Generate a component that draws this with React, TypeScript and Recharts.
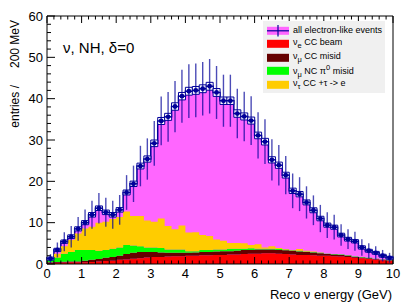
import { Area, Bar, ComposedChart, ErrorBar, Scatter, XAxis, YAxis } from "recharts";

// 50 bins of 200 MeV, 0 - 10 GeV.
const BIN_WIDTH = 0.2;

const TOTAL = [
  1.3, 3.4, 5.4, 6.6, 8.5, 10.0, 11.9, 13.5, 12.5, 11.9,
  13.1, 17.3, 19.4, 23.7, 25.4, 29.2, 34.6, 35.6, 38.1, 40.6,
  41.8, 42.0, 42.4, 43.0, 41.5, 39.5, 39.5, 36.4, 35.7, 34.7,
  31.1, 29.6, 25.2, 23.9, 21.5, 17.7, 16.9, 14.9, 13.0, 11.0,
  9.4, 8.9, 7.0, 6.0, 5.5, 4.0, 3.2, 2.7, 2.0, 1.5,
];
const STAT_ERR = [
  1.1, 1.8, 2.3, 2.6, 2.9, 3.2, 3.4, 3.7, 3.5, 3.4,
  3.6, 4.2, 4.4, 4.9, 5.0, 5.4, 5.9, 6.0, 6.2, 6.4,
  6.5, 6.5, 6.5, 6.6, 6.4, 6.3, 6.3, 6.0, 6.0, 5.9,
  5.6, 5.4, 5.0, 4.9, 4.6, 4.2, 4.1, 3.9, 3.6, 3.3,
  3.1, 3.0, 2.6, 2.4, 2.3, 2.0, 1.8, 1.6, 1.4, 1.2,
];
// half height of the systematic boxes
const SYST_ERR = [
  0.35, 0.4, 0.4, 0.45, 0.5, 0.5, 0.55, 0.55, 0.55, 0.55,
  0.55, 0.6, 0.65, 0.7, 0.75, 0.8, 0.85, 0.85, 0.9, 0.9,
  0.95, 0.95, 0.95, 0.95, 0.95, 0.9, 0.9, 0.9, 0.85, 0.85,
  0.8, 0.8, 0.75, 0.75, 0.7, 0.65, 0.65, 0.6, 0.6, 0.55,
  0.5, 0.5, 0.45, 0.45, 0.4, 0.4, 0.35, 0.35, 0.35, 0.35,
];
const NUE_CC_BEAM = [
  0.3, 0.3, 0.35, 0.4, 0.4, 0.45, 0.5, 0.6, 0.7, 0.8,
  1.0, 1.1, 1.3, 1.4, 1.6, 1.7, 1.7, 1.8, 1.9, 1.9,
  2.0, 2.0, 2.1, 2.1, 2.2, 2.2, 2.3, 2.3, 2.4, 2.5,
  2.5, 2.6, 2.6, 2.5, 2.4, 2.3, 2.2, 2.2, 2.1, 2.0,
  2.0, 1.9, 1.8, 1.7, 1.5, 1.4, 1.2, 1.1, 0.9, 0.8,
];
const NUMU_CC_MISID = [
  0.1, 0.2, 0.2, 0.2, 0.2, 0.35, 0.5, 0.6, 0.8, 0.9,
  1.0, 1.3, 1.4, 1.5, 1.3, 1.2, 1.1, 0.9, 0.8, 0.8,
  0.7, 0.8, 0.8, 0.8, 0.8, 0.9, 0.8, 0.9, 1.0, 0.9,
  1.0, 0.9, 0.9, 0.9, 0.9, 0.9, 0.8, 0.7, 0.7, 0.6,
  0.4, 0.4, 0.4, 0.3, 0.2, 0.2, 0.2, 0.1, 0.1, 0.1,
];
const NUMU_NC_MISID = [
  0.6, 1.1, 1.95, 2.3, 2.8, 2.6, 2.4, 2.0, 1.9, 2.0,
  2.0, 2.2, 1.8, 1.4, 1.1, 1.1, 1.1, 0.8, 0.8, 0.8,
  0.4, 0.3, 0.5, 0.5, 0.5, 0.4, 0.6, 0.5, 0.3, 0.4,
  0.2, 0.2, 0.2, 0.2, 0.2, 0.1, 0.2, 0.1, 0.1, 0.1,
  0.1, 0.1, 0.1, 0.1, 0.1, 0.1, 0.1, 0.1, 0.1, 0.1,
];
const NUTAU_CC = [
  0.1, 0.9, 1.8, 2.9, 4.0, 5.2, 5.6, 6.8, 6.8, 7.2,
  7.4, 8.1, 7.1, 7.3, 6.5, 6.2, 7.1, 5.7, 4.9, 5.8,
  4.5, 4.6, 3.6, 3.4, 2.4, 2.1, 1.4, 1.4, 1.3, 0.8,
  1.1, 0.3, 0.6, 0.3, 0.1, 0.1, 0.4, 0.2, 0.1, 0.1,
  0, 0, 0, 0, 0, 0, 0, 0, 0, 0,
];

const X_LABELS = [0, 1, 2, 3, 4, 5, 6, 7, 8, 9, 10];
const Y_LABELS = [0, 10, 20, 30, 40, 50, 60];
// ROOT style: 5 minor divisions per major
const X_TICKS = Array.from({ length: 51 }, (_, i) => Math.round(i * 2) / 10);
const Y_TICKS = Array.from({ length: 31 }, (_, i) => i * 2);

const W = 415;
const H = 308;
const FONT = "'Liberation Sans', Arial, Helvetica, sans-serif";
const NAVY = "#000099";
const MAGENTA = "#ff66ff";
const RED = "#ff0000";
const DARK_RED = "#660000";
const GREEN = "#00ff00";
const ORANGE = "#ffcc00";

// step areas need the lower bin edges plus a closing point at 10 GeV
const edgeRows = TOTAL.map((t, i) => ({
  x: Math.round(i * BIN_WIDTH * 10) / 10,
  total: t,
  nue: NUE_CC_BEAM[i],
  numuCC: NUMU_CC_MISID[i],
  numuNC: NUMU_NC_MISID[i],
  nutau: NUTAU_CC[i],
}));
edgeRows.push({ ...edgeRows[edgeRows.length - 1], x: 10 });

const centerRows = TOTAL.map((t, i) => ({
  x: Math.round((i * BIN_WIDTH + BIN_WIDTH / 2) * 100) / 100,
  total: t,
  err: STAT_ERR[i],
  half: BIN_WIDTH / 2,
  box: [t - SYST_ERR[i], t + SYST_ERR[i]],
}));

const near = (v: number, list: number[]) => list.some((m) => Math.abs(m - v) < 1e-6);

function BottomTick({ x, y, payload }: any) {
  const major = near(payload.value, X_LABELS);
  return (
    <g>
      <line x1={x} x2={x} y1={y} y2={y - (major ? 7 : 3.5)} stroke="#000" />
      {major && (
        <text x={x} y={y + 14} textAnchor="middle" fontSize={13} fontFamily={FONT} fill="#000">
          {payload.value}
        </text>
      )}
    </g>
  );
}

function TopTick({ x, y, payload }: any) {
  const major = near(payload.value, X_LABELS);
  return <line x1={x} x2={x} y1={y} y2={y + (major ? 7 : 3.5)} stroke="#000" />;
}

function LeftTick({ x, y, payload }: any) {
  const major = near(payload.value, Y_LABELS);
  return (
    <g>
      <line x1={x} x2={x + (major ? 8 : 4)} y1={y} y2={y} stroke="#000" />
      {major && (
        <text x={x - 4} y={y + 4.5} textAnchor="end" fontSize={13} fontFamily={FONT} fill="#000">
          {payload.value}
        </text>
      )}
    </g>
  );
}

function RightTick({ x, y, payload }: any) {
  const major = near(payload.value, Y_LABELS);
  return <line x1={x} x2={x - (major ? 8 : 4)} y1={y} y2={y} stroke="#000" />;
}

const frame = { stroke: "#000", strokeWidth: 1 };

function Histogram() {
  return (
    <ComposedChart width={W} height={H} data={edgeRows} margin={{ top: 15, right: 21, bottom: 0, left: 0 }}>
      <Area type="stepAfter" dataKey="total" fill={MAGENTA} fillOpacity={1} stroke={NAVY} strokeWidth={1.5} isAnimationActive={false} />
      <Area type="stepAfter" dataKey="nue" stackId="mc" fill={RED} fillOpacity={1} stroke="none" isAnimationActive={false} />
      <Area type="stepAfter" dataKey="numuCC" stackId="mc" fill={DARK_RED} fillOpacity={1} stroke="none" isAnimationActive={false} />
      <Area type="stepAfter" dataKey="numuNC" stackId="mc" fill={GREEN} fillOpacity={1} stroke="none" isAnimationActive={false} />
      <Area type="stepAfter" dataKey="nutau" stackId="mc" fill={ORANGE} fillOpacity={1} stroke="none" isAnimationActive={false} />
      <XAxis dataKey="x" type="number" domain={[0, 10]} ticks={X_TICKS} interval={0} height={44}
        tickSize={0} tickMargin={0} tickLine={false} axisLine={frame} tick={(p: any) => <BottomTick {...p} />} />
      <XAxis xAxisId="t" orientation="top" dataKey="x" type="number" domain={[0, 10]} ticks={X_TICKS} interval={0} height={1}
        tickSize={0} tickMargin={0} tickLine={false} axisLine={frame} tick={(p: any) => <TopTick {...p} />} />
      <YAxis type="number" domain={[0, 60]} ticks={Y_TICKS} interval={0} width={47}
        tickSize={0} tickMargin={0} tickLine={false} axisLine={frame} tick={(p: any) => <LeftTick {...p} />} />
      <YAxis yAxisId="r" orientation="right" type="number" domain={[0, 60]} ticks={Y_TICKS} interval={0} width={1}
        tickSize={0} tickMargin={0} tickLine={false} axisLine={frame} tick={(p: any) => <RightTick {...p} />} />
    </ComposedChart>
  );
}

// Same plot box as Histogram, laid on top: syst boxes, points, stat errors.
function Points() {
  return (
    <ComposedChart width={W} height={H} data={centerRows} margin={{ top: 16, right: 22, bottom: 0, left: 0 }}
      barCategoryGap={0} barGap={0}>
      <XAxis dataKey="x" type="number" domain={[0, 10]} height={44} tick={false} tickLine={false} axisLine={false} />
      <YAxis type="number" domain={[0, 60]} width={47} tick={false} tickLine={false} axisLine={false} />
      <Bar dataKey="box" fill="#ffffff" stroke={NAVY} strokeWidth={1} isAnimationActive={false} />
      <Scatter dataKey="total" isAnimationActive={false}
        shape={(p: any) => <circle cx={p.cx} cy={p.cy} r={2.4} fill={NAVY} />}>
        <ErrorBar dataKey="err" direction="y" width={0} stroke={NAVY} strokeWidth={1.4} strokeOpacity={0.7} />
        <ErrorBar dataKey="half" direction="x" width={0} stroke={NAVY} strokeWidth={1.5} />
      </Scatter>
    </ComposedChart>
  );
}

const legendRows = [
  { color: MAGENTA, label: <>all electron-like events</>, marker: true },
  { color: RED, label: <>ν<sub>e</sub> CC beam</> },
  { color: DARK_RED, label: <>ν<sub>μ</sub> CC misid</> },
  { color: GREEN, label: <>ν<sub>μ</sub> NC π<sup>0</sup> misid</> },
  { color: ORANGE, label: <>ν<sub>τ</sub> CC +τ -&gt; e</> },
];

function Legend() {
  return (
    <div style={{ position: "absolute", left: 263, top: 21, width: 122, height: 72, background: "#f0f0f0",
      fontFamily: FONT, fontSize: 9, color: "#000" }}>
      {legendRows.map((r, i) => (
        <div key={i} style={{ position: "absolute", left: 0, top: 2.5 + i * 13.6, height: 13.6, display: "flex", alignItems: "center" }}>
          <svg width={30} height={13.6} style={{ display: "block" }}>
            <rect x={4} y={2.8} width={22} height={8} fill={r.color} />
            {r.marker && (
              <>
                <line x1={4} x2={26} y1={6.8} y2={6.8} stroke={NAVY} strokeWidth={1.2} />
                <line x1={15} x2={15} y1={1} y2={12.6} stroke={NAVY} strokeWidth={1.2} />
              </>
            )}
          </svg>
          <span style={{ whiteSpace: "nowrap", lineHeight: "9px" }}>{r.label}</span>
        </div>
      ))}
    </div>
  );
}

function Titles() {
  return (
    <svg width={W} height={H} style={{ position: "absolute", left: 0, top: 0, pointerEvents: "none" }}>
      <text x={63} y={53} fontSize={15} fontFamily={FONT} fill="#000">ν, NH, δ=0</text>
      <text x={392} y={299} textAnchor="end" fontSize={13} fontFamily={FONT} fill="#000">Reco ν energy (GeV)</text>
      <text transform="translate(19,20) rotate(-90)" textAnchor="end" fontSize={12} fontFamily={FONT} fill="#000">
        entries /<tspan dx={17}>200 MeV</tspan>
      </text>
    </svg>
  );
}

export default function App() {
  return (
    <div style={{ position: "absolute", left: 0, top: 0, width: W, height: H, background: "#fff", overflow: "hidden" }}>
      <div style={{ position: "absolute", left: 0, top: 0 }}>
        <Histogram />
      </div>
      <div style={{ position: "absolute", left: 0, top: 0 }}>
        <Points />
      </div>
      <Legend />
      <Titles />
    </div>
  );
}
